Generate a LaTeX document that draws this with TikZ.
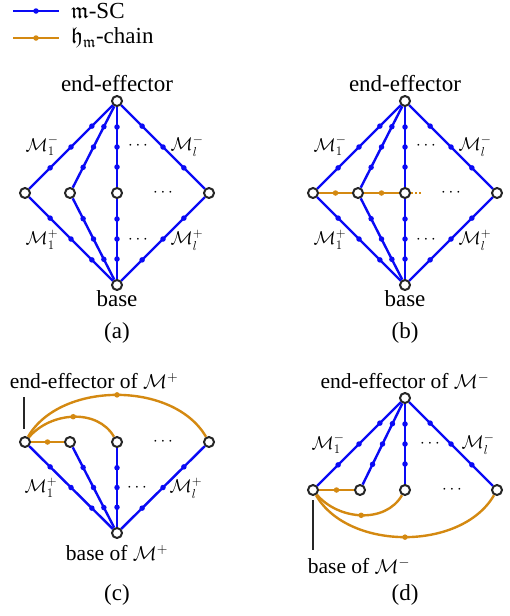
\RequirePackage{fix-cm}
\documentclass[tikz,border=0pt]{standalone}
\usepackage{amssymb}
\usepackage[no-math]{fontspec}
\setmainfont{Liberation Serif}
\definecolor{chain}{RGB}{212,137,17}
\definecolor{sc}{RGB}{10,10,245}
\newcommand{\scedge}[2]{\draw[scl] (#1) -- node[bdot,pos=.25]{} node[bdot,pos=.5]{} node[bdot,pos=.75]{} (#2);}
\newcommand{\smM}[1]{{\fontsize{20}{24}\selectfont$\mathcal{M}^{#1}$}}
\begin{document}
\begin{tikzpicture}[x=1pt,y=1pt,
  vtx/.style={circle,draw=black!85,fill=white,line width=2pt,inner sep=0pt,minimum size=10pt},
  scl/.style={draw=sc,line width=2.4pt},
  chl/.style={draw=chain,line width=2.4pt},
  bdot/.style={circle,fill=sc,inner sep=0pt,minimum size=5.5pt},
  odot/.style={circle,fill=chain,inner sep=0pt,minimum size=5.5pt},
  lbl/.style={font=\fontsize{23}{27}\selectfont,inner sep=0pt},
  slbl/.style={font=\fontsize{21.5}{25}\selectfont,inner sep=0pt},
  mlbl/.style={font=\fontsize{18.5}{22}\selectfont,inner sep=0pt},
  dts/.style={font=\fontsize{17}{20}\selectfont,inner sep=0pt},
  pin/.style={draw=black!85,line width=1.7pt}]
\useasboundingbox (0,0) rectangle (509,-616);

% legend
\coordinate (lg1a) at (13,-11); \coordinate (lg1b) at (59,-11);
\coordinate (lg2a) at (13,-38); \coordinate (lg2b) at (59,-38);
\draw[scl] (lg1a) -- node[bdot]{} (lg1b);
\draw[chl] (lg2a) -- node[odot]{} (lg2b);
\node[lbl,anchor=west] (lgt1) at (71,-11) {$\mathfrak{m}$-SC};
\node[lbl,anchor=west] (lgt2) at (71,-38) {$\mathfrak{h}_{\mathfrak{m}}$-chain};

% ---------- (a)
\node[vtx] (a-t) at (117,-101) {};
\node[vtx] (a-1) at (25,-193) {};
\node[vtx] (a-2) at (70,-193) {};
\node[vtx] (a-3) at (117,-193) {};
\node[vtx] (a-l) at (209,-193) {};
\node[vtx] (a-b) at (117,-285) {};
\scedge{a-t}{a-1}\scedge{a-t}{a-2}\scedge{a-t}{a-3}\scedge{a-t}{a-l}
\scedge{a-1}{a-b}\scedge{a-2}{a-b}\scedge{a-3}{a-b}\scedge{a-l}{a-b}
\node[lbl] (a-ee) at (117,-84) {end-effector};
\node[lbl] (a-ba) at (117,-299) {base};
\node[mlbl] (a-m1m) at (42,-146) {$\mathcal{M}_1^-$};
\node[mlbl] (a-mlm) at (187,-146) {$\mathcal{M}_l^-$};
\node[mlbl] (a-m1p) at (42,-240) {$\mathcal{M}_1^+$};
\node[mlbl] (a-mlp) at (187,-240) {$\mathcal{M}_l^+$};
\node[dts] (a-d1) at (138,-146) {$\cdots$};
\node[dts] (a-d2) at (163,-193) {$\cdots$};
\node[dts] (a-d3) at (138,-240) {$\cdots$};
\node[lbl] (a-cap) at (117,-333) {(a)};

% ---------- (b)
\node[vtx] (b-t) at (405,-101) {};
\node[vtx] (b-1) at (313,-193) {};
\node[vtx] (b-2) at (358,-193) {};
\node[vtx] (b-3) at (405,-193) {};
\node[vtx] (b-l) at (497,-193) {};
\node[vtx] (b-b) at (405,-285) {};
\coordinate (b-x) at (422,-193);
\scedge{b-t}{b-1}\scedge{b-t}{b-2}\scedge{b-t}{b-3}\scedge{b-t}{b-l}
\scedge{b-1}{b-b}\scedge{b-2}{b-b}\scedge{b-3}{b-b}\scedge{b-l}{b-b}
\draw[chl] (b-1) -- node[odot]{} (b-2);
\draw[chl] (b-2) -- node[odot]{} (b-3);
\draw[chl,dash pattern=on 2pt off 2pt] (b-3) -- (b-x);
\node[lbl] (b-ee) at (405,-84) {end-effector};
\node[lbl] (b-ba) at (405,-299) {base};
\node[mlbl] (b-m1m) at (330,-146) {$\mathcal{M}_1^-$};
\node[mlbl] (b-mlm) at (475,-146) {$\mathcal{M}_l^-$};
\node[mlbl] (b-m1p) at (330,-240) {$\mathcal{M}_1^+$};
\node[mlbl] (b-mlp) at (475,-240) {$\mathcal{M}_l^+$};
\node[dts] (b-d1) at (426,-146) {$\cdots$};
\node[dts] (b-d2) at (451,-193) {$\cdots$};
\node[dts] (b-d3) at (426,-240) {$\cdots$};
\node[lbl] (b-cap) at (405,-333) {(b)};

% ---------- (c)
\node[vtx] (c-1) at (25,-442) {};
\node[vtx] (c-2) at (70,-442) {};
\node[vtx] (c-3) at (117,-442) {};
\node[vtx] (c-l) at (209,-442) {};
\node[vtx] (c-b) at (117,-533) {};
\scedge{c-1}{c-b}\scedge{c-2}{c-b}\scedge{c-3}{c-b}\scedge{c-l}{c-b}
\draw[chl] (c-1) -- node[odot]{} (c-2);
\draw[chl] (c-1) to[out=50,in=120,looseness=1] node[odot]{} (c-3);
\draw[chl] (c-1) to[out=60,in=120,looseness=0.93] node[odot]{} (c-l);
\coordinate (c-pa) at (24,-397); \coordinate (c-pb) at (24,-429);
\draw[pin] (c-pa) -- (c-pb);
\node[slbl] (c-ee) at (94,-381) {end-effector of \smM{+}};
\node[slbl] (c-ba) at (117,-553) {base of \smM{+}};
\node[mlbl] (c-m1p) at (41,-488) {$\mathcal{M}_1^+$};
\node[mlbl] (c-mlp) at (186,-488) {$\mathcal{M}_l^+$};
\node[dts] (c-d1) at (163,-442) {$\cdots$};
\node[dts] (c-d2) at (137,-488) {$\cdots$};
\node[lbl] (c-cap) at (117,-595) {(c)};

% ---------- (d)
\node[vtx] (d-t) at (405,-398) {};
\node[vtx] (d-1) at (313,-490) {};
\node[vtx] (d-2) at (360,-490) {};
\node[vtx] (d-3) at (405,-490) {};
\node[vtx] (d-l) at (497,-490) {};
\scedge{d-t}{d-1}\scedge{d-t}{d-2}\scedge{d-t}{d-3}\scedge{d-t}{d-l}
\draw[chl] (d-1) -- node[odot]{} (d-2);
\draw[chl] (d-1) to[out=-50,in=-120,looseness=1] node[odot]{} (d-3);
\draw[chl] (d-1) to[out=-60,in=-120,looseness=0.93] node[odot]{} (d-l);
\coordinate (d-pa) at (313,-500); \coordinate (d-pb) at (313,-550);
\draw[pin] (d-pa) -- (d-pb);
\node[slbl] (d-ee) at (405,-381) {end-effector of \smM{-}};
\node[slbl] (d-ba) at (359,-566) {base of \smM{-}};
\node[mlbl] (d-m1m) at (328,-444) {$\mathcal{M}_1^-$};
\node[mlbl] (d-mlm) at (478,-444) {$\mathcal{M}_l^-$};
\node[dts] (d-d1) at (430,-444) {$\cdots$};
\node[dts] (d-d2) at (452,-490) {$\cdots$};
\node[lbl] (d-cap) at (405,-595) {(d)};
\end{tikzpicture}
\end{document}
